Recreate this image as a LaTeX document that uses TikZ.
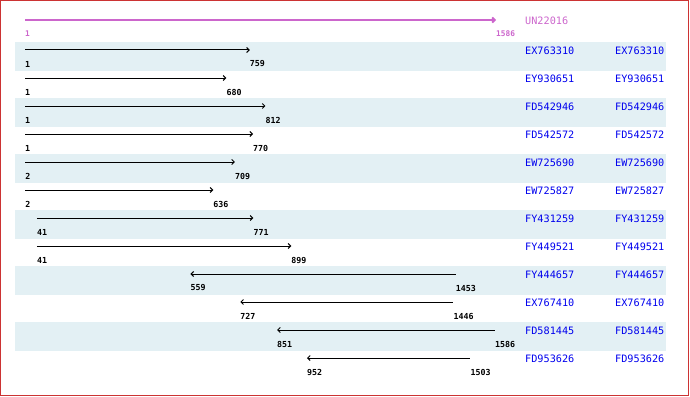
\documentclass[tikz,border=0pt]{standalone}
\usepackage{fontspec}
\setmonofont{DejaVu Sans Mono}
\usetikzlibrary{arrows.meta}

\definecolor{framered}{RGB}{204,51,51}
\definecolor{bandblue}{RGB}{227,240,244}
\definecolor{hitblue}{RGB}{0,0,238}
\definecolor{querypink}{RGB}{204,102,204}

\begin{document}
\begin{tikzpicture}[x=1pt,y=-1pt,>={Straight Barb[length=2.5pt,width=5pt]},
    name node/.style={anchor=west,inner sep=0pt,text=hitblue,font=\fontsize{10.2}{12}\selectfont\ttfamily},
    pos node/.style={anchor=west,inner sep=0pt,font=\fontsize{8.3}{10}\selectfont\ttfamily\bfseries},
    hit/.style={line width=1pt},
    fwd/.style={->},rev/.style={<-}]
    \useasboundingbox (0,0) rectangle (690,396);
    \draw[framered,line width=1.2pt] (0.6,0.6) rectangle (688.6,395.4);

    % query
    \coordinate (q1) at (25,20);
    \coordinate (q2) at (496,20);
    \draw[->,querypink,line width=1.8pt] (q1) -- (q2);
    \node[pos node,text=querypink,font=\fontsize{7.8}{9}\selectfont\ttfamily\bfseries] (qs) at (25,33.5) {1};
    \node[pos node,text=querypink,font=\fontsize{7.8}{9}\selectfont\ttfamily\bfseries] (qe) at (496,33.5) {1586};
    \node[name node,text=querypink] (UN22016) at (525,21) {UN22016};

    % hits
    \foreach \name/\lo/\hi/\dir [count=\i] in {
        EX763310/1/759/fwd, EY930651/1/680/fwd, FD542946/1/812/fwd,
        FD542572/1/770/fwd, EW725690/2/709/fwd, EW725827/2/636/fwd,
        FY431259/41/771/fwd, FY449521/41/899/fwd, FY444657/559/1453/rev,
        EX767410/727/1446/rev, FD581445/851/1586/rev, FD953626/952/1503/rev} {
        \pgfmathsetmacro\y{50+28*(\i-1)}
        \pgfmathsetmacro\xa{25+(\lo-1)*0.29653}
        \pgfmathsetmacro\xb{25+(\hi-1)*0.29653}
        \ifodd\i
            \fill[bandblue] (15,\y-8) rectangle (665.5,\y+20.6);
        \fi
        \coordinate (s\i) at (\xa,\y);
        \coordinate (e\i) at (\xb,\y);
        \draw[hit,\dir] (s\i) -- (e\i);
        \node[pos node] (lo\i) at (\xa,\y+14) {\lo};
        \node[pos node] (hi\i) at (\xb,\y+14) {\hi};
        \node[name node] (\name) at (525,\y+1) {\name};
        \node[name node] (\name b) at (615,\y+1) {\name};
    }
\end{tikzpicture}
\end{document}
